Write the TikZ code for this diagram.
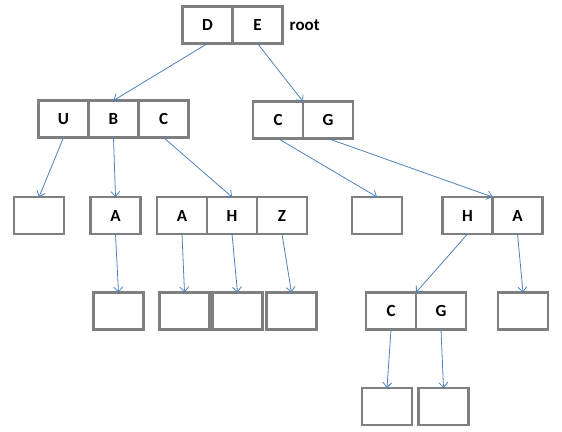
\documentclass[tikz,border=0pt]{standalone}
\usepackage{fontspec}
\setmainfont{Carlito}
\usetikzlibrary{arrows.meta,positioning}
\definecolor{CellGray}{RGB}{127,127,127}
\definecolor{LinkBlue}{RGB}{79,129,189}

\tikzset{
  cell/.style={draw=CellGray,line width=2.2pt,minimum width=50pt,minimum height=37pt,
    outer sep=0pt,inner sep=0pt,font=\fontsize{17}{20}\selectfont\bfseries},
  link/.style={LinkBlue,line width=0.8pt,-{Straight Barb[length=5pt,width=9pt]}}
}

\begin{document}
\begin{tikzpicture}[x=1pt,y=-1pt]
\useasboundingbox (0,0) rectangle (562,431);
% root
\node[cell] (d) at (207.5,25) {D};
\node[cell,right=0pt of d] (e) {E};
\node[font=\fontsize{17}{20}\selectfont\bfseries,inner sep=0pt,right=7pt of e] (root) {root};
% second level
\node[cell] (u) at (63.5,119) {U};
\node[cell,right=0pt of u] (b) {B};
\node[cell,right=0pt of b] (c1) {C};
\node[cell] (c2) at (278,120) {C};
\node[cell,right=0pt of c2] (g1) {G};
% third level
\node[cell] (n1) at (39,215.5) {};
\node[cell] (a1) at (115.5,215.5) {A};
\node[cell] (a2) at (182,215.5) {A};
\node[cell,right=0pt of a2] (h1) {H};
\node[cell,right=0pt of h1] (z) {Z};
\node[cell] (n2) at (377,215.5) {};
\node[cell] (h2) at (467.5,215.5) {H};
\node[cell,right=0pt of h2] (a3) {A};
% fourth level
\node[cell] (n3) at (118.5,311) {};
\node[cell] (n4) at (184.5,311) {};
\node[cell] (n5) at (237.5,311) {};
\node[cell] (n6) at (291.5,311) {};
\node[cell] (c3) at (391,311) {C};
\node[cell,right=0pt of c3] (g2) {G};
\node[cell] (n7) at (523,311) {};
% fifth level
\node[cell] (n8) at (387,406.5) {};
\node[cell] (n9) at (443.5,406.5) {};

% links
\draw[link] (d.south) -- (b.north);
\draw[link] (e.south) -- (c2.north east);
\draw[link] (u.south) -- (n1.north);
\draw[link] (b.south) -- (a1.north);
\draw[link] (c1.south) -- (h1.north);
\draw[link] (c2.south) -- (n2.north);
\draw[link] (g1.south) -- (h2.north east);
\draw[link] (a1.south) -- (n3.north);
\draw[link] (a2.south) -- (n4.north);
\draw[link] (h1.south) -- (n5.north);
\draw[link] (z.south) -- (n6.north);
\draw[link] (h2.south) -- (c3.north east);
\draw[link] (a3.south) -- (n7.north);
\draw[link] (c3.south) -- (n8.north);
\draw[link] (g2.south) -- (n9.north);
\end{tikzpicture}
\end{document}
